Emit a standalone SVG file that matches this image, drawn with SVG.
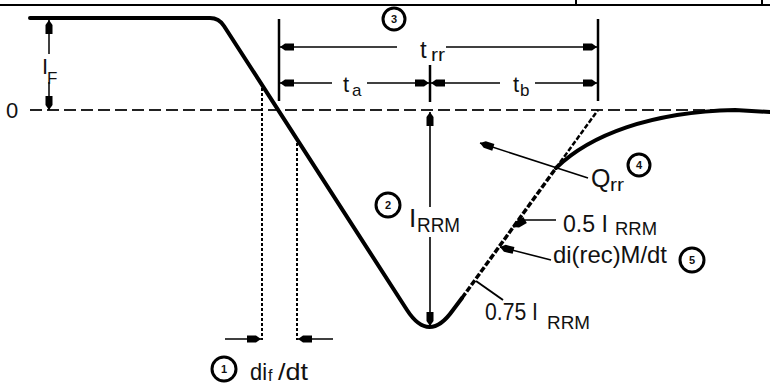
<svg xmlns="http://www.w3.org/2000/svg" width="770" height="385" viewBox="0 0 770 385">
<defs>
<marker id="ah" viewBox="-16 -5 17 10" markerWidth="17" markerHeight="10" refX="0" refY="0" orient="auto-start-reverse" markerUnits="userSpaceOnUse" overflow="visible">
<path d="M0,0 L-5,-3.5 L-14,-3.5 L-14,3.5 L-5,3.5 Z" fill="#000"/>
</marker>
<style>
text{font-family:"Liberation Sans","Arial",sans-serif;fill:#111}
.num{font-size:11px;text-anchor:middle;font-weight:bold}
.thin{fill:none;stroke:#000;stroke-width:1.5}
.dim{fill:none;stroke:#000;stroke-width:1.6;marker-end:url(#ah)}
.ext{fill:none;stroke:#000;stroke-width:2.5}
.circ{fill:#fff;stroke:#000;stroke-width:3}
.curve{fill:none;stroke:#000;stroke-width:4;stroke-linejoin:round;stroke-linecap:round}
</style>
</defs>
<rect width="770" height="385" fill="#fff"/>
<g id="frame">
<line x1="0" y1="5" x2="770" y2="5" stroke="#000" stroke-width="2"/>
<line x1="576" y1="0" x2="576" y2="6" stroke="#000" stroke-width="2"/>
<line x1="762" y1="0" x2="762" y2="6" stroke="#000" stroke-width="2"/>
</g>
<g id="zero-axis">
<line x1="30" y1="110" x2="745" y2="110" stroke="#222" stroke-width="2" stroke-dasharray="12 5"/>
<text x="6" y="118" font-size="22">0</text>
</g>
<g id="waveform">
<path class="curve" d="M30,18 L210,18 Q219,18 224,26 L407,310 Q429,344 453,310 L462,298"/>
<path fill="none" stroke="#000" stroke-width="3.5" stroke-dasharray="6 2" d="M462,298 L556,168"/>
<path fill="none" stroke="#000" stroke-width="2.5" stroke-dasharray="5 2" d="M556,168 L598,110"/>
<path class="curve" d="M556,168 C590,135 650,112 735,110 L770,112"/>
</g>
<g id="connectors">
<line class="thin" x1="49" y1="54" x2="49" y2="20" marker-end="url(#ah)"/>
<line class="thin" x1="49" y1="82" x2="49" y2="110" marker-end="url(#ah)"/>
<line class="ext" x1="279" y1="19" x2="279" y2="101"/>
<line class="ext" x1="598" y1="19" x2="598" y2="101"/>
<line class="ext" x1="430" y1="65" x2="430" y2="102"/>
<line class="dim" x1="397" y1="47" x2="280" y2="47"/>
<line class="dim" x1="446" y1="47" x2="597" y2="47" stroke-width="2.5"/>
<line class="dim" x1="332" y1="83" x2="280" y2="83"/>
<line class="dim" x1="367" y1="83" x2="429" y2="83"/>
<line class="dim" x1="500" y1="83" x2="431" y2="83"/>
<line class="dim" x1="535" y1="83" x2="597" y2="83"/>
<line class="dim" x1="430" y1="207" x2="430" y2="112"/>
<line class="dim" x1="430" y1="237" x2="430" y2="326"/>
<line class="dim" x1="588" y1="178" x2="480" y2="143"/>
<path class="dim" d="M556,220 L525,220 L513,227"/>
<line class="dim" x1="551" y1="260" x2="500" y2="247"/>
<line stroke="#000" stroke-width="2" x1="476" y1="281" x2="503" y2="300"/>
<line stroke="#000" stroke-width="2" stroke-dasharray="3 2" x1="262" y1="88" x2="262" y2="340"/>
<line stroke="#000" stroke-width="2" stroke-dasharray="3 2" x1="297" y1="143" x2="297" y2="340"/>
<line class="dim" x1="225" y1="339" x2="261" y2="339"/>
<line class="dim" x1="333" y1="339" x2="298" y2="339"/>
</g>
<g id="label-IF">
<text x="42" y="74" font-size="22">I</text>
<text x="47" y="84" font-size="17">F</text>
</g>
<g id="label-trr">
<circle class="circ" cx="394" cy="19" r="11"/>
<text class="num" x="394" y="23">3</text>
<text x="420" y="58" font-size="24">t</text>
<text x="431" y="61" font-size="18" textLength="14" lengthAdjust="spacingAndGlyphs">rr</text>
</g>
<g id="label-ta">
<text x="343" y="92" font-size="22">t</text>
<text x="352" y="96" font-size="17">a</text>
</g>
<g id="label-tb">
<text x="513" y="92" font-size="22">t</text>
<text x="520" y="96" font-size="17">b</text>
</g>
<g id="label-IRRM">
<circle class="circ" cx="388" cy="205" r="12"/>
<text class="num" x="388" y="209">2</text>
<text x="409" y="227" font-size="26">I</text>
<text x="417" y="232" font-size="20" textLength="43" lengthAdjust="spacingAndGlyphs">RRM</text>
</g>
<g id="label-Qrr">
<text x="591" y="187" font-size="25">Q</text>
<text x="610" y="191" font-size="18" textLength="14" lengthAdjust="spacingAndGlyphs">rr</text>
<circle class="circ" cx="639" cy="165" r="11"/>
<text class="num" x="639" y="169">4</text>
</g>
<g id="label-05IRRM">
<text x="563" y="232" font-size="24" textLength="45" lengthAdjust="spacingAndGlyphs">0.5 I</text>
<text x="615" y="235" font-size="19" textLength="42" lengthAdjust="spacingAndGlyphs">RRM</text>
</g>
<g id="label-direc">
<text x="553" y="263" font-size="24" textLength="114" lengthAdjust="spacingAndGlyphs">di(rec)M/dt</text>
<circle class="circ" cx="692" cy="260" r="12"/>
<text class="num" x="692" y="264">5</text>
</g>
<g id="label-075IRRM">
<text x="485" y="320" font-size="24" textLength="53" lengthAdjust="spacingAndGlyphs">0.75 I</text>
<text x="547" y="329" font-size="19" textLength="43" lengthAdjust="spacingAndGlyphs">RRM</text>
</g>
<g id="label-dif">
<circle class="circ" cx="224" cy="369" r="12"/>
<text class="num" x="224" y="373">1</text>
<text x="250" y="380" font-size="24" textLength="17" lengthAdjust="spacingAndGlyphs">di</text>
<text x="268" y="381" font-size="16">f</text>
<text x="278" y="380" font-size="24" textLength="30" lengthAdjust="spacingAndGlyphs">/dt</text>
</g>
</svg>
